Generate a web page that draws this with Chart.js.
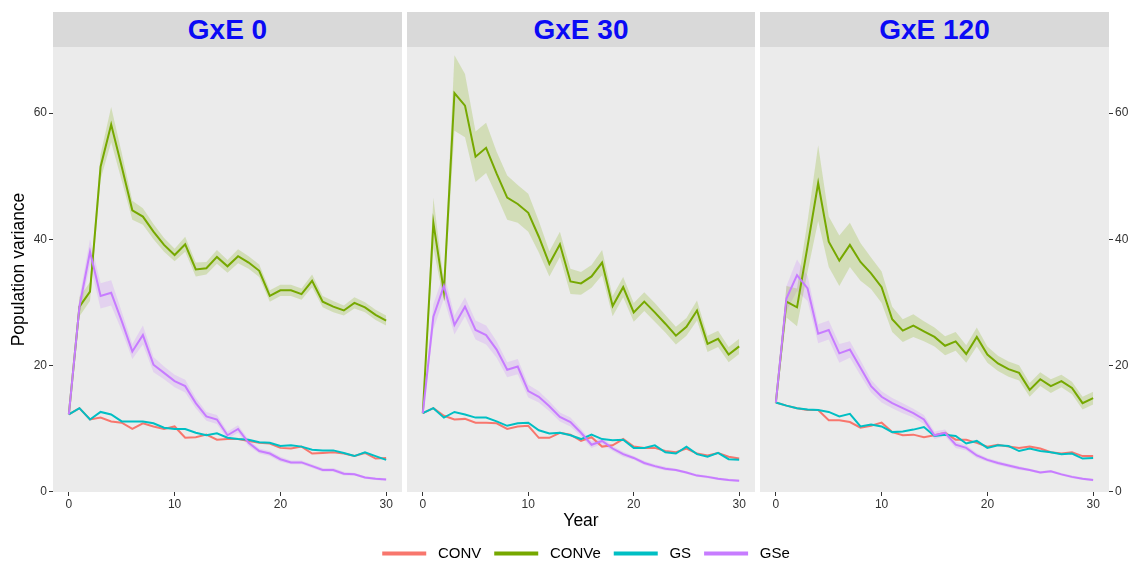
<!DOCTYPE html>
<html>
<head>
<meta charset="utf-8">
<script src="https://cdn.jsdelivr.net/npm/chart.js@4.4.1/dist/chart.umd.min.js"></script>
<style>
  html, body { margin: 0; padding: 0; background: #ffffff; width: 1131px; height: 563px; overflow: hidden; position: relative; font-family: "Liberation Sans", Arial, sans-serif; }
  .strip { position: absolute; top: 12px; height: 35px; background: #d9d9d9; color: #0a0af5; font-weight: bold; font-size: 28px; line-height: 35px; text-align: center; }
  canvas { position: absolute; }
</style>
</head>
<body>
<div class="strip" style="left:53px;width:349px">GxE 0</div>
<div class="strip" style="left:407px;width:348px">GxE 30</div>
<div class="strip" style="left:760px;width:349px">GxE 120</div>
<canvas id="p0" width="402" height="486" style="left:0px;top:47px"></canvas>
<canvas id="p30" width="560" height="524" style="left:306px;top:47px"></canvas>
<canvas id="p120" width="371" height="486" style="left:760px;top:47px"></canvas>
<script>
// Years of selection
const years = [0,1,2,3,4,5,6,7,8,9,10,11,12,13,14,15,16,17,18,19,20,21,22,23,24,25,26,27,28,29,30];
const xTicks = [0, 10, 20, 30];
const yTicks = [0, 20, 40, 60];
const seriesNames = ['CONV', 'CONVe', 'GS', 'GSe'];
const panelTitles = ['GxE 0', 'GxE 30', 'GxE 120'];

// GxE 0
const conv0   = [12.2,13.2,11.4,11.7,11.1,10.9,9.9,10.8,10.3,9.9,10.3,8.5,8.6,9.0,8.2,8.3,8.3,8.0,7.7,7.6,6.9,6.8,7.1,6.0,6.1,6.2,6.0,5.6,6.1,5.2,5.3];
const conve0  = [12.2,29.3,31.7,51.5,58.2,51.5,44.6,43.6,41.2,39.1,37.5,39.2,35.2,35.4,37.2,35.7,37.3,36.3,35.0,31.0,31.9,31.9,31.3,33.4,30.1,29.3,28.7,29.9,29.2,28.0,27.1];
const gs0     = [12.2,13.2,11.4,12.6,12.2,11.1,11.1,11.1,10.8,10.1,9.9,9.9,9.3,8.9,9.2,8.5,8.3,8.2,7.8,7.7,7.2,7.3,7.1,6.6,6.5,6.5,6.1,5.6,6.2,5.6,5.0];
const gse0    = [12.2,29.3,38.0,31.0,31.5,27.0,22.2,24.8,20.1,18.8,17.5,16.7,14.0,11.9,11.4,8.9,9.9,7.7,6.4,6.0,5.1,4.6,4.6,4.0,3.4,3.4,2.8,2.7,2.2,2.0,1.9];
const conveBand0 = [0.3,1.5,1.5,2.0,2.8,2.2,1.5,1.3,1.2,1.1,1.0,1.2,1.1,1.0,1.1,1.0,1.1,1.0,1.0,0.9,0.9,0.9,0.9,1.0,0.9,0.9,0.8,0.9,0.8,0.8,0.8];
const gseBand0   = [0.3,1.5,2.0,2.0,2.0,1.5,1.2,1.5,1.2,1.0,1.0,1.0,0.8,0.7,0.7,0.6,0.6,0.5,0.4,0.4,0.4,0.3,0.3,0.3,0.3,0.3,0.3,0.2,0.2,0.2,0.2];

// GxE 30
const conv30  = [12.4,13.2,12.0,11.4,11.5,10.9,10.9,10.8,9.9,10.3,10.4,8.5,8.5,9.3,9.0,8.0,8.6,7.1,7.3,8.3,7.1,6.9,6.9,6.4,6.2,6.8,6.0,5.7,6.1,5.5,5.2];
const conve30 = [12.4,42.6,31.7,63.2,61.2,53.1,54.5,50.4,46.6,45.6,44.2,40.4,36.1,39.2,33.3,33.0,34.1,36.3,29.4,32.4,28.4,30.1,28.4,26.6,24.7,26.1,28.7,23.4,24.2,21.7,23.0];
const gs30    = [12.4,13.2,11.7,12.6,12.2,11.7,11.7,11.1,10.4,10.8,10.9,9.7,9.2,9.3,8.9,8.3,9.0,8.3,8.1,8.2,6.9,6.9,7.3,6.2,6.0,7.1,5.9,5.5,6.1,5.1,5.0];
const gse30   = [12.4,27.7,32.6,26.4,29.3,25.6,24.8,22.5,19.3,19.8,15.9,15.0,13.5,11.8,11.0,9.3,7.4,8.0,6.8,5.9,5.3,4.5,4.0,3.6,3.4,3.0,2.5,2.3,2.0,1.8,1.7];
const conveBand30 = [0.3,4.0,1.5,6.0,5.0,4.0,4.0,3.5,3.5,3.0,3.0,2.5,2.0,2.0,2.0,1.8,1.8,2.0,1.6,1.6,1.5,1.5,1.5,1.4,1.4,1.4,1.6,1.3,1.3,1.2,1.2];
const gseBand30   = [0.3,2.0,2.0,1.5,1.5,1.5,1.5,1.3,1.2,1.2,1.0,0.9,0.8,0.7,0.7,0.6,0.5,0.5,0.4,0.4,0.3,0.3,0.3,0.3,0.2,0.2,0.2,0.2,0.2,0.2,0.2];

// GxE 120
const conv120  = [14.1,13.6,13.2,12.9,12.9,11.3,11.3,11.0,10.1,10.4,10.9,9.4,8.9,9.0,8.6,8.9,9.3,8.2,8.2,7.7,7.1,7.4,7.1,6.9,7.1,6.8,6.2,6.0,6.2,5.6,5.6];
const conve120 = [14.1,30.1,29.2,38.9,48.9,39.6,36.6,39.1,36.4,34.6,32.4,27.3,25.5,26.3,25.4,24.5,23.1,23.8,21.8,24.5,21.7,20.3,19.4,18.8,16.1,17.8,16.7,17.5,16.4,14.0,14.8];
const gs120    = [14.1,13.6,13.2,13.0,12.9,12.6,11.9,12.3,10.3,10.6,10.3,9.4,9.5,9.8,10.2,8.8,9.0,8.8,7.6,8.0,6.9,7.3,7.2,6.4,6.8,6.4,6.2,5.9,6.0,5.2,5.3];
const gse120   = [14.1,30.6,34.3,32.2,25.0,25.6,21.9,22.5,19.6,16.7,15.0,14.0,13.2,12.4,11.4,8.9,9.3,7.4,6.9,5.7,5.0,4.5,4.1,3.7,3.4,3.0,3.2,2.7,2.3,2.0,1.8];
const conveBand120 = [0.3,2.5,3.0,4.0,6.0,4.0,4.0,3.5,3.0,2.5,2.5,2.0,1.8,1.8,1.6,1.5,1.5,1.5,1.4,1.5,1.3,1.2,1.2,1.2,1.1,1.1,1.1,1.0,1.0,1.0,1.0];
const gseBand120   = [0.3,2.0,2.5,2.0,1.5,1.5,1.5,1.3,1.2,1.0,0.9,0.8,0.8,0.7,0.7,0.6,0.5,0.5,0.4,0.4,0.3,0.3,0.3,0.3,0.2,0.2,0.2,0.2,0.2,0.2,0.2];

const colors = { CONV: '#F8766D', CONVe: '#76A800', GS: '#00BFC4', GSe: '#C77CFF' };
const ribbonColors = { CONVe: 'rgba(124,174,0,0.22)', GSe: 'rgba(199,124,255,0.22)' };

const pts = arr => years.map((yr, i) => ({ x: yr, y: arr[i] }));
const shifted = (arr, band, sign) => years.map((yr, i) => ({ x: yr, y: arr[i] + sign * band[i] }));

function buildDatasets(conv, conve, gs, gse, conveBand, gseBand) {
  const values = { CONV: conv, CONVe: conve, GS: gs, GSe: gse };
  const ds = seriesNames.map((name, i) => ({
    label: name,
    data: pts(values[name]),
    borderColor: colors[name],
    borderWidth: 2,
    pointRadius: 0,
    tension: 0,
    fill: false,
    order: 4 - i
  }));
  const bands = [['CONVe', conve, conveBand], ['GSe', gse, gseBand]];
  bands.forEach(([name, arr, band]) => {
    ds.push({ label: name + ' lower', data: shifted(arr, band, -1), borderColor: 'rgba(0,0,0,0)', borderWidth: 0, pointRadius: 0, fill: false, order: 20 });
    ds.push({ label: name + ' upper', data: shifted(arr, band, 1), borderColor: 'rgba(0,0,0,0)', borderWidth: 0, pointRadius: 0, fill: '-1', backgroundColor: ribbonColors[name], order: 20 });
  });
  return ds;
}

const panelBg = {
  id: 'panelBg',
  beforeDraw(chart) {
    const { ctx, chartArea: a } = chart;
    ctx.save();
    ctx.fillStyle = '#ebebeb';
    ctx.fillRect(a.left, a.top, a.right - a.left, a.bottom - a.top);
    ctx.restore();
  }
};

// fixed axis sizes so every panel shares the same plotting rectangle
function fixSize(s, w, h) {
  if (w !== null) s.width = w;
  if (h !== null) s.height = h;
  s.paddingTop = 0; s.paddingBottom = 0; s.paddingLeft = 0; s.paddingRight = 0;
}

const tickGrid = { display: true, drawOnChartArea: false, drawTicks: true, tickLength: 4, color: '#333333', lineWidth: 1 };
const tickFont = { family: '"Liberation Sans", Arial, sans-serif', size: 12 };
const titleFont = { family: '"Liberation Sans", Arial, sans-serif', size: 17.5 };

function xScale(showTitle) {
  return {
    type: 'linear', min: -1.5, max: 31.5,
    afterBuildTicks: s => { s.ticks = xTicks.map(v => ({ value: v })); },
    afterFit: s => fixSize(s, null, 41),
    grid: tickGrid,
    border: { display: false },
    ticks: { padding: 1, color: '#333333', font: tickFont, maxRotation: 0 },
    title: { display: showTitle, text: 'Year', color: '#000000', font: titleFont, padding: { top: 0, bottom: 1.5 } }
  };
}

function yScale(position, width, showTicks, showTitle) {
  return {
    type: 'linear', position: position, min: -0.1, max: 70.5,
    afterBuildTicks: s => { s.ticks = yTicks.map(v => ({ value: v })); },
    afterFit: s => fixSize(s, width, null),
    grid: showTicks ? tickGrid : { display: false },
    border: { display: false },
    ticks: { display: showTicks, padding: 2, color: '#333333', font: tickFont },
    title: { display: showTitle, text: 'Population variance', color: '#000000', font: titleFont, padding: { top: 8.5, bottom: 0 } }
  };
}

function makeChart(id, datasets, scales, showLegend) {
  return new Chart(document.getElementById(id), {
    type: 'line',
    data: { datasets: datasets },
    plugins: [panelBg],
    options: {
      responsive: false,
      animation: false,
      devicePixelRatio: 1,
      layout: { padding: 0, autoPadding: false },
      scales: scales,
      plugins: {
        tooltip: { enabled: false },
        title: { display: false },
        legend: {
          display: showLegend,
          position: 'bottom',
          align: 'center',
          labels: {
            boxWidth: 44,
            boxHeight: 4,
            padding: 13,
            color: '#000000',
            font: { family: '"Liberation Sans", Arial, sans-serif', size: 15 },
            generateLabels: () => seriesNames.map((name, i) => ({
              text: ' ' + name,
              fillStyle: colors[name],
              strokeStyle: colors[name],
              lineWidth: 0,
              hidden: false,
              datasetIndex: i
            }))
          }
        }
      }
    }
  });
}

makeChart('p0', buildDatasets(conv0, conve0, gs0, gse0, conveBand0, gseBand0),
  { x: xScale(false), y: yScale('left', 53, true, true) }, false);

makeChart('p30', buildDatasets(conv30, conve30, gs30, gse30, conveBand30, gseBand30),
  { x: xScale(true), y: yScale('left', 101, false, false),
    yR: { type: 'linear', position: 'right', min: 0, max: 1, afterFit: s => fixSize(s, 111, null),
          grid: { display: false }, border: { display: false }, ticks: { display: false } } }, true);

makeChart('p120', buildDatasets(conv120, conve120, gs120, gse120, conveBand120, gseBand120),
  { x: xScale(false), y: yScale('right', 22, true, false) }, false);
</script>
</body>
</html>
